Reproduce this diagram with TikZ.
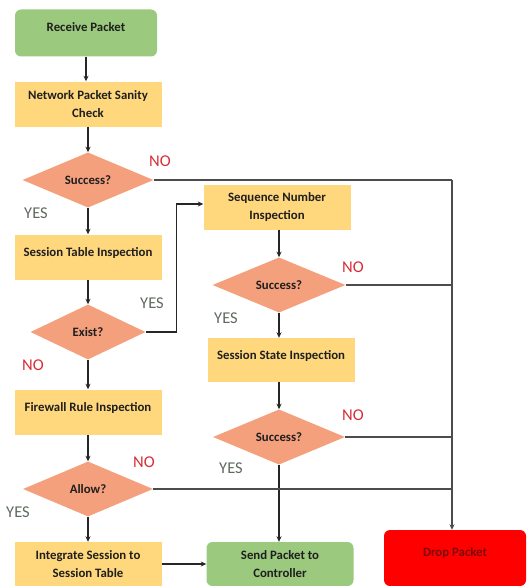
\documentclass[tikz,border=0pt]{standalone}
\usepackage{fontspec}
\setmainfont{Carlito}
\usetikzlibrary{arrows.meta,shapes.geometric}
\definecolor{boxyel}{RGB}{255,215,125}
\definecolor{boxgrn}{RGB}{155,201,126}
\definecolor{dmdsal}{RGB}{245,160,125}
\definecolor{dropred}{RGB}{255,0,0}
\definecolor{droptxt}{RGB}{125,10,10}
\definecolor{nored}{RGB}{215,45,55}
\definecolor{yesgry}{RGB}{95,105,95}
\tikzset{
  nd/.style={draw=none,minimum width=147pt,minimum height=45pt,inner sep=2pt,
    align=center,text=black!88,font=\fontsize{12.8}{18}\selectfont\bfseries},
  pr/.style={nd,rectangle,fill=boxyel},
  gn/.style={nd,rectangle,rounded corners=6pt,fill=boxgrn},
  dp/.style={nd,rectangle,rounded corners=6pt,fill=dropred,text=droptxt,
    minimum width=142pt,minimum height=56pt},
  dc/.style={nd,diamond,fill=dmdsal,inner sep=0pt,minimum height=55pt},
  hi/.style={text depth=11pt},
  ed/.style={-{Stealth[length=5.5pt,width=5pt]},line width=1.3pt,black!85},
  ln/.style={line width=1.3pt,black!70},
  yes/.style={text=yesgry,font=\fontsize{16.5}{18}\selectfont},
  no/.style={text=nored,font=\fontsize{16.5}{18}\selectfont},
}

\begin{document}
\begin{tikzpicture}[x=1pt,y=-1pt]
  \useasboundingbox (0,0) rectangle (527,586);
  % left column
  \node[gn,hi,minimum width=142pt,minimum height=47pt] (recv) at (86,33) {Receive Packet};
  \node[pr] (sanity) at (88,104) {Network Packet Sanity\\Check};
  \node[dc,minimum width=131pt] (suc1) at (88,180) {Success?};
  \node[pr,hi] (stable) at (88,257) {Session Table Inspection};
  \node[dc,minimum width=115pt] (exist) at (88,332) {Exist?};
  \node[pr,hi] (fwall) at (88,412) {Firewall Rule Inspection};
  \node[dc,minimum width=130pt] (allow) at (88,489) {Allow?};
  \node[pr,minimum height=44pt] (integ) at (88,564) {Integrate Session to\\Session Table};
  % middle column
  \node[pr] (seq) at (277,207) {Sequence Number\\Inspection};
  \node[dc,minimum width=133pt] (suc2) at (279,285) {Success?};
  \node[pr,hi,minimum height=44pt] (state) at (281,360) {Session State Inspection};
  \node[dc,minimum width=132pt] (suc3) at (279,437) {Success?};
  \node[gn,minimum height=44pt] (send) at (280,564) {Send Packet to\\Controller};
  % right
  \node[dp,hi] (drop) at (455,558) {Drop Packet};
  \coordinate (c1) at (452,180);

  \draw[ed] (recv) -- (recv |- sanity.north);
  \draw[ed] (sanity.south -| suc1) -- (suc1.north);
  \draw[ed] (suc1) -- (stable);
  \draw[ed] (stable) -- (exist);
  \draw[ed] (exist) -- (fwall);
  \draw[ed] (fwall) -- (allow);
  \draw[ed] (allow) -- (integ);
  \draw[ed] (integ) -- (send);
  \draw[ed] (exist.east) -- ++(31,0) |- ([yshift=3pt]seq.west);
  \draw[ed] (seq.south -| suc2) -- (suc2.north);
  \draw[ed] (suc2) -- (suc2 |- state.north);
  \draw[ed] (state.south -| suc3) -- (suc3.north);
  \draw[ed] (suc3.south) -- (suc3.south |- send.north);

  \draw[ln] (suc1.east) -- (c1);
  \draw[ed,black!70] (c1) -- (c1 |- drop.north);
  \draw[ln] (suc2.east) -- (suc2.east -| c1);
  \draw[ln] (suc3.east) -- (suc3.east -| c1);
  \draw[ln] (allow.east) -- (allow.east -| c1);

  % labels
  \node[no] (n1) at (160,161) {NO};
  \node[yes] (y1) at (36,213) {YES};
  \node[yes] (y2) at (152,303) {YES};
  \node[no] (n2) at (33,365) {NO};
  \node[no] (n3) at (144,462) {NO};
  \node[yes] (y3) at (18,512) {YES};
  \node[no] (n4) at (353,267) {NO};
  \node[yes] (y4) at (226,318) {YES};
  \node[no] (n5) at (353,415) {NO};
  \node[yes] (y5) at (231,468) {YES};
\end{tikzpicture}
\end{document}
